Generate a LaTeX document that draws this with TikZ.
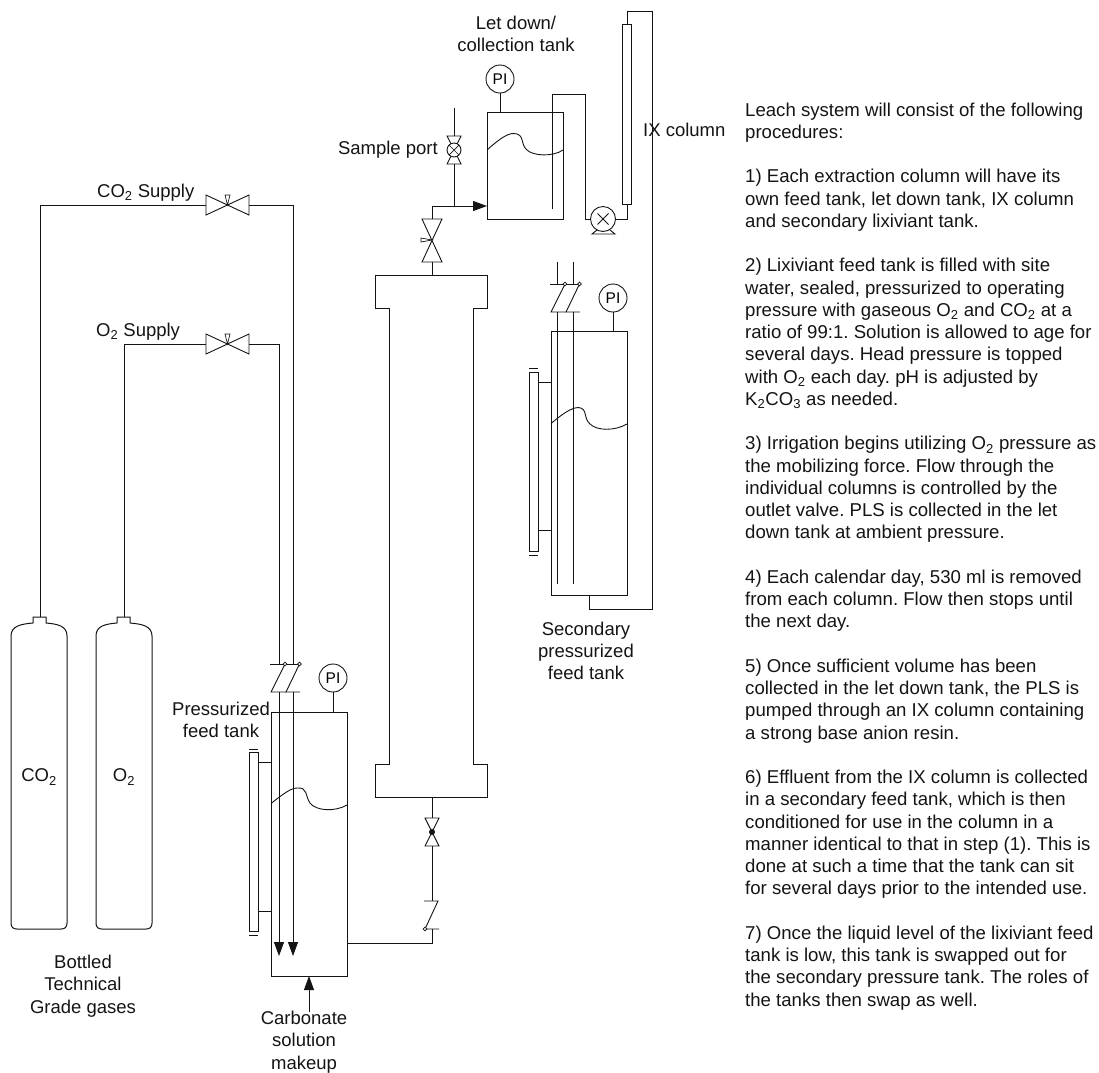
\documentclass[tikz,border=0pt]{standalone}
\usepackage{fontspec}
\setmainfont{Liberation Sans}
\usetikzlibrary{arrows.meta}
\definecolor{ink}{RGB}{20,20,20}
\newcommand{\sub}[1]{\textsubscript{#1}}
\frenchspacing
\tikzset{
  pipe/.style={draw=ink,line width=0.9pt},
  vessel/.style={draw=ink,line width=1pt,fill=none},
  flowtip/.style={-{Triangle[length=14pt,width=10pt,ink]}},
  lbl/.style={inner sep=0pt,font=\fontsize{18.5}{22.2}\selectfont,text=ink,align=center},
  gauge/.style={circle,draw=ink,line width=0.9pt,minimum size=28pt,inner sep=0pt,font=\fontsize{15.5}{18}\selectfont},
  port/.style={circle,inner sep=0pt,minimum size=0pt}
}
\newcommand{\valveh}[2]{% horizontal gate valve with pennant on top
  \draw[pipe] (#1-21.5,#2-10) -- (#1+21.5,#2+10) -- (#1+21.5,#2-10) -- (#1-21.5,#2+10) -- cycle;
  \draw[pipe,line width=0.7pt] (#1,#2) -- (#1-2.5,#2-10) -- (#1+2.5,#2-10) -- cycle;
}
\newcommand{\valvev}[4]{% vertical valve: x, centre y, half height, half width
  \draw[pipe] (#1-#4,#2-#3) -- (#1+#4,#2+#3) -- (#1-#4,#2+#3) -- (#1+#4,#2-#3) -- cycle;
}
\newcommand{\checks}[3]{% x of left end, top y, height
  \draw[pipe] (#1,#2) -- (#1+15,#2);
  \draw[pipe] (#1+15,#2) -- (#1+1,#2+#3) -- (#1+16,#2+#3);
  \draw[pipe] (#1+15,#2) -- (#1+29,#2);
  \draw[pipe] (#1+29.5,#2) -- (#1+16,#2+#3) -- (#1+30,#2+#3);
  \draw[pipe,fill=white,line width=0.7pt] (#1+15,#2) circle (1.8);
  \draw[pipe,fill=white,line width=0.7pt] (#1+29.5,#2) circle (1.8);
}
\newcommand{\bottle}[4]{% left, right, neck left, neck right
  \draw[vessel] (#3,623) -- (#3,617) -- (#4,617) -- (#4,623)
    .. controls (#4+12,624) and (#2,626) .. (#2,636)
    -- (#2,923) .. controls (#2,927) and (#2-2,929) .. (#2-6,929)
    -- (#1+6,929) .. controls (#1+2,929) and (#1,927) .. (#1,923)
    -- (#1,636) .. controls (#1,626) and (#3-12,624) .. (#3,623);
}
\newcommand{\glass}[6]{% left,right,top,bottom,bar top,bar bottom
  \draw[vessel] (#1,#3) rectangle (#2,#4);
  \draw[pipe,line width=0.7pt] (#1,#5) -- (#2,#5);
  \draw[pipe,line width=0.7pt] (#1,#6) -- (#2,#6);
}
\begin{document}
\begin{tikzpicture}[x=1pt,y=-1pt]
\useasboundingbox (0,0) rectangle (1099,1072);
% Named anchors
\coordinate (co2neck) at (40,617);
\coordinate (co2corner) at (40,205);
\coordinate (co2vl) at (206,205);
\coordinate (co2vr) at (249,205);
\coordinate (co2right) at (293,205);
\coordinate (co2cv) at (293,664);
\coordinate (co2cvb) at (293,692);
\coordinate (co2end) at (293,956);
\coordinate (o2neck) at (124,617);
\coordinate (o2corner) at (124,344);
\coordinate (o2vl) at (206,344);
\coordinate (o2vr) at (249,344);
\coordinate (o2right) at (279,344);
\coordinate (o2cv) at (279,664);
\coordinate (o2cvb) at (279,692);
\coordinate (o2end) at (279,956);
% Cylinders
\bottle{11}{67}{33}{46}
\bottle{96}{152}{117}{130}
\node[lbl] (co2cyl) at (39,777) {CO\sub{2}};
\node[lbl] (o2cyl) at (124,777) {O\sub{2}};
\node[lbl] (bottled) at (83,986) {Bottled\\Technical\\Grade gases};
% gas lines
\draw[pipe] (co2neck) -- (co2corner) -- (co2vl);
\draw[pipe] (co2vr) -- (co2right) -- (co2cv);
\draw[pipe] (o2neck) -- (o2corner) -- (o2vl);
\draw[pipe] (o2vr) -- (o2right) -- (o2cv);
\valveh{227.5}{205}
\valveh{227.5}{344}
\node[lbl,anchor=base west] (co2sup) at (97,197) {CO\sub{2} Supply};
\node[lbl,anchor=base west] (o2sup) at (96,336) {O\sub{2} Supply};
% Feed tank
\node[vessel,draw,minimum width=76pt,minimum height=264pt,inner sep=0pt] (feed) at (309,844) {};
\glass{249}{258}{752}{931}{749}{935}
\draw[pipe] (258,762) -- (271,762);
\draw[pipe] (258,911) -- (271,911);
\draw[pipe] (271,803.5) .. controls (283,794) and (291,788) .. (297,788)
  .. controls (308,787) and (305,796) .. (310,803)
  .. controls (316,811) and (335,812) .. (347,805);
\node[gauge] (pi1) at (333,678) {PI};
\draw[pipe] (pi1.south) -- (333,712);
\checks{270}{664}{28}
\draw[pipe,flowtip] (o2cvb) -- (o2end);
\draw[pipe,flowtip] (co2cvb) -- (co2end);
\node[lbl] (presslbl) at (221,720) {Pressurized\\feed tank};
\node[lbl] (carb) at (304,1042) {Carbonate\\solution\\makeup};
\coordinate (makeup) at (309,1012);
\coordinate (makeupin) at (309,976);
\draw[pipe,flowtip] (makeup) -- (makeupin);
% Column
\draw[vessel] (389.5,308) -- (375,308) -- (375,275) -- (487,275) -- (487,308) -- (473,308)
  -- (473,764) -- (487,764) -- (487,797) -- (375,797) -- (375,764) -- (389.5,764) -- cycle;
% lower valve & check
\coordinate (collow) at (432,797);
\coordinate (vlt) at (432,818);
\coordinate (vlb) at (432,846);
\coordinate (cvtop) at (432,901);
\coordinate (cvbot) at (432,929);
\coordinate (feedout) at (347,943);
\coordinate (outcorner) at (432,943);
\draw[pipe] (collow) -- (vlt);
\valvev{432}{832}{14}{7}
\fill[ink] (432,832) circle (3);
\draw[pipe] (vlb) -- (cvtop);
\draw[pipe] (424,901) -- (438,901) -- (425,929) -- (439,929);
\draw[pipe,fill=white,line width=0.7pt] (425,929) circle (1.8);
\draw[pipe] (feedout) -- (outcorner) -- (cvbot);
% upper valve
\coordinate (coltop) at (432,275);
\coordinate (vut) at (432,219);
\coordinate (vub) at (432,262);
\draw[pipe] (coltop) -- (vub);
\valvev{432}{240.5}{21.5}{10}
\draw[pipe,line width=0.7pt] (432,240) -- (421,238) -- (421,242) -- cycle;
\coordinate (jn) at (432,206);
\coordinate (ldin) at (487,206);
\draw[pipe] (vut) -- (jn);
\draw[pipe,flowtip] (jn) -- (ldin);
% sample
\coordinate (samp) at (454,206);
\coordinate (sampt) at (454,136);
\coordinate (sampb) at (454,164);
\coordinate (sampe) at (454,108);
\draw[pipe] (samp) -- (sampb);
\draw[pipe] (sampt) -- (sampe);
\valvev{454}{150}{14}{7}
\draw[pipe,fill=white] (454,150) circle (7);
\draw[pipe,line width=0.7pt] (449,145) -- (459,155) (449,155) -- (459,145);
\node[lbl,anchor=east] (samplbl) at (438,150) {Sample port};
% let down tank
\node[vessel,draw,minimum width=76pt,minimum height=107pt,inner sep=0pt] (ld) at (525,165.5) {};
\node[gauge] (pi2) at (500,79) {PI};
\draw[pipe] (pi2.south) -- (500,113);
\draw[pipe] (487,150) .. controls (497,141) and (507,133) .. (514,133.5)
  .. controls (525,134) and (520,144) .. (527,150)
  .. controls (533,156) and (553,157) .. (563,150);
\node[lbl] (ldlbl) at (516,34) {Let down/\\collection tank};
% dip tube to pump
\coordinate (pumpin) at (591,219);
\draw[pipe] (552,209) -- (552,94) -- (585,94) -- (585,219) -- (pumpin);
% pump
\node[circle,draw=ink,line width=0.9pt,minimum size=25pt,inner sep=0pt] (pump) at (603,219) {};
\draw[pipe,line width=0.8pt] (597.5,213.5) -- (608.5,224.5) (597.5,224.5) -- (608.5,213.5);
\draw[pipe] (597,230) -- (592,234) -- (615,234) -- (610,230);
% IX
\node[vessel,draw,minimum width=8.5pt,minimum height=180pt,inner sep=0pt] (ix) at (627,114) {};
\draw[pipe] (pump.east) -- (627,219) -- (ix.south);
\draw[pipe] (ix.north) -- (627,11) -- (652,11) -- (652,609) -- (589,609) -- (589,595);
\node[lbl,anchor=west] (ixlbl) at (643,130) {IX column};
% Secondary
\node[vessel,draw,minimum width=76pt,minimum height=264pt,inner sep=0pt] (sec) at (589,463) {};
\glass{529}{538}{372}{551}{368}{555}
\draw[pipe] (538,382) -- (551,382);
\draw[pipe] (538,530) -- (551,530);
\draw[pipe] (551,423.5) .. controls (560,416) and (570,408) .. (578,407.5)
  .. controls (588,408) and (583,418) .. (590,424)
  .. controls (597,431) and (615,431) .. (627,424);
\node[gauge] (pi3) at (613,298) {PI};
\draw[pipe] (pi3.south) -- (613,331);
\checks{550}{284}{28}
\draw[pipe] (557,262) -- (557,284) (573,262) -- (573,284);
\draw[pipe] (557,312) -- (557,584) (573,312) -- (573,584);
\node[lbl] (seclbl) at (586,651) {Secondary\\pressurized\\feed tank};
% Procedure text
\node[lbl,align=left,anchor=north west,font=\fontsize{18.6}{22.25}\selectfont] (proc) at (745,102.5) {Leach system will consist of the following\\
procedures:\\[22.25pt]
1) Each extraction column will have its\\
own feed tank, let down tank, IX column\\
and secondary lixiviant tank.\\[22.25pt]
2) Lixiviant feed tank is filled with site\\
water, sealed, pressurized to operating\\
pressure with gaseous O\sub{2} and CO\sub{2} at a\\
ratio of 99:1. Solution is allowed to age for\\
several days. Head pressure is topped\\
with O\sub{2} each day. pH is adjusted by\\
K\sub{2}CO\sub{3} as needed.\\[22.25pt]
3) Irrigation begins utilizing O\sub{2} pressure as\\
the mobilizing force. Flow through the\\
individual columns is controlled by the\\
outlet valve. PLS is collected in the let\\
down tank at ambient pressure.\\[22.25pt]
4) Each calendar day, 530 ml is removed\\
from each column. Flow then stops until\\
the next day.\\[22.25pt]
5) Once sufficient volume has been\\
collected in the let down tank, the PLS is\\
pumped through an IX column containing\\
a strong base anion resin.\\[22.25pt]
6) Effluent from the IX column is collected\\
in a secondary feed tank, which is then\\
conditioned for use in the column in a\\
manner identical to that in step (1). This is\\
done at such a time that the tank can sit\\
for several days prior to the intended use.\\[22.25pt]
7) Once the liquid level of the lixiviant feed\\
tank is low, this tank is swapped out for\\
the secondary pressure tank. The roles of\\
the tanks then swap as well.};
\end{tikzpicture}
\end{document}
